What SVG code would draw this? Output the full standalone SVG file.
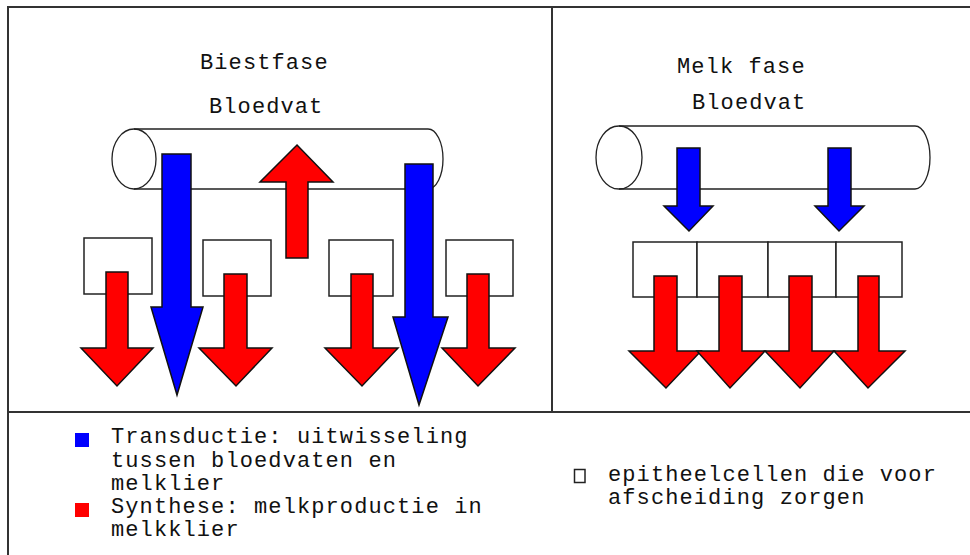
<svg xmlns="http://www.w3.org/2000/svg" width="970" height="555" viewBox="0 0 970 555">
<style>
.t{font-family:"Liberation Mono","DejaVu Sans Mono",monospace;font-size:22px;letter-spacing:1.1px;fill:#111}
.frame{fill:none;stroke:#333;stroke-width:2}
.cyl{fill:none;stroke:#222;stroke-width:1.3}
.cell{fill:#fff;stroke:#222;stroke-width:1.5}
.red{fill:#ff0000;stroke:#111;stroke-width:1.5;stroke-linejoin:miter}
.blue{fill:#0000ff;stroke:#111;stroke-width:1.5;stroke-linejoin:miter}
</style>
<rect width="970" height="555" fill="#fff"/>
<g id="frame">
<rect class="frame" x="8" y="7" width="970" height="560"/>
<line class="frame" x1="552" y1="7" x2="552" y2="412"/>
<line class="frame" x1="8" y1="412" x2="970" y2="412"/>
</g>
<g id="titles">
<text class="t" x="200" y="69">Biestfase</text>
<text class="t" x="209" y="113">Bloedvat</text>
<text class="t" x="677" y="73">Melk fase</text>
<text class="t" x="692" y="109">Bloedvat</text>
</g>
<g id="bloedvat-left">
<path class="cyl" d="M134,129 L428,129 A15,30 0 0 1 428,189 L134,189"/>
<ellipse class="cyl" cx="134" cy="159" rx="22" ry="30"/>
</g>
<g id="bloedvat-right">
<path class="cyl" d="M619,126 L915,126 A15,31.5 0 0 1 915,189 L619,189"/>
<ellipse class="cyl" cx="619" cy="157.5" rx="23" ry="31.5"/>
</g>
<g id="cellen-left">
<rect class="cell" x="84" y="238" width="68" height="56"/>
<rect class="cell" x="203" y="240" width="68" height="56"/>
<rect class="cell" x="329" y="240" width="64" height="56"/>
<rect class="cell" x="446" y="240" width="67" height="56"/>
</g>
<g id="cellen-right">
<rect class="cell" x="633" y="242" width="64" height="55"/>
<rect class="cell" x="697" y="242" width="71" height="55"/>
<rect class="cell" x="768" y="242" width="68" height="55"/>
<rect class="cell" x="836" y="242" width="66" height="55"/>
</g>
<g id="connectors">
<polygon class="red" points="106,272 128,272 128,348 153,348 117,386 81,348 106,348"/>
<polygon class="red" points="224,274 247,274 247,348 272,348 236,386 199,348 224,348"/>
<polygon class="red" points="351,274 373,274 373,348 398,348 362,386 325,348 351,348"/>
<polygon class="red" points="467,274 489,274 489,348 515,348 478,386 442,348 467,348"/>
<polygon class="red" points="297,145 333,182 308,182 308,258 286,258 286,182 260,182"/>
<polygon class="blue" points="162,154 191,154 191,307 203,307 177,395 151,307 162,307"/>
<polygon class="blue" points="405,164 433,164 433,317 448,317 419,405 393,317 405,317"/>
<polygon class="blue" points="677,148 700,148 700,206 713,206 689,231 664,206 677,206"/>
<polygon class="blue" points="828,148 851,148 851,206 864,206 839,231 815,206 828,206"/>
<polygon class="red" points="654,276 677,276 677,351 701,351 666,388 629,351 654,351"/>
<polygon class="red" points="719,276 742,276 742,351 765,351 730,388 697,351 719,351"/>
<polygon class="red" points="789,276 812,276 812,351 834,351 800,388 765,351 789,351"/>
<polygon class="red" points="858,276 879,276 879,351 905,351 868,388 834,351 858,351"/>
</g>
<g id="legend">
<rect x="75" y="433" width="14" height="14" fill="#0000ff"/>
<text class="t" x="111" y="443">Transductie: uitwisseling</text>
<text class="t" x="111" y="467">tussen bloedvaten en</text>
<text class="t" x="111" y="490">melklier</text>
<rect x="75" y="503" width="14" height="14" fill="#ff0000"/>
<text class="t" x="111" y="513">Synthese: melkproductie in</text>
<text class="t" x="111" y="536">melkklier</text>
<rect x="574.5" y="469.5" width="10.5" height="13" fill="#fff" stroke="#222" stroke-width="1.5"/>
<text class="t" x="608" y="481">epitheelcellen die voor</text>
<text class="t" x="608" y="504">afscheiding zorgen</text>
</g>
</svg>
